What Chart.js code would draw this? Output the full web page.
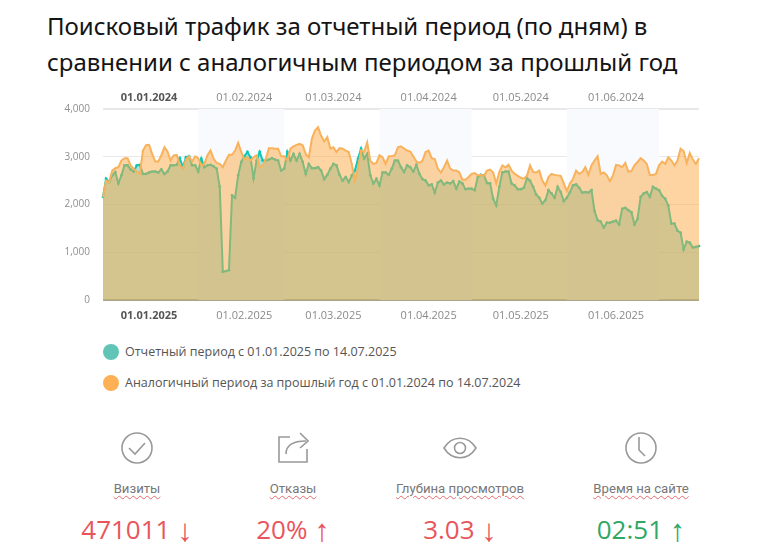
<!DOCTYPE html>
<html lang="ru">
<head>
<meta charset="utf-8">
<title>Поисковый трафик</title>
<script src="https://cdn.jsdelivr.net/npm/chart.js@4.4.0/dist/chart.umd.min.js"></script>
<style>
  html, body { margin: 0; padding: 0; background: #fff; }
  body { position: relative; width: 768px; height: 551px; overflow: hidden; font-family: "Open Sans", sans-serif; filter: blur(0.35px); }
  h1 { position: absolute; left: 47px; top: 8px; margin: 0; font: 400 24px/36px "Noto Sans", sans-serif; color: #141414; white-space: nowrap; }
  #wrap { position: absolute; left: 60px; top: 78px; width: 660px; height: 247px; }
  .leg { position: absolute; left: 103px; font-size: 12.5px; line-height: 16px; color: #555; white-space: nowrap; }
  .leg i { display: inline-block; width: 16px; height: 16px; border-radius: 50%; margin-right: 6px; vertical-align: top; }
  .kpi { position: absolute; top: 430px; width: 200px; text-align: center; }
  .kpi svg { display: block; margin: 0 auto; fill: none; stroke: #999; stroke-width: 1.6; }
  .kpi .name { margin-top: 16px; font: 13.2px/18px Roboto, sans-serif; color: #777; text-decoration: underline wavy #e36a6a 1px; text-underline-offset: 2px; }
  .kpi .val { margin-top: 13px; font: 400 26px/36px "Open Sans", sans-serif; }
  .kpi .val span { font: 400 31px/36px "Liberation Sans", sans-serif; vertical-align: -2px; }
  .bad { color: #e8565c; }
  .good { color: #2fa765; }
</style>
</head>
<body>
<h1>Поисковый трафик за отчетный период (по дням) в<br>сравнении с аналогичным периодом за прошлый год</h1>
<div id="wrap"><canvas id="chart"></canvas></div>
<div class="leg" style="top:344px"><i style="background:#60c5b7"></i>Отчетный период с 01.01.2025 по 14.07.2025</div>
<div class="leg" style="top:375px"><i style="background:#fdb154"></i>Аналогичный период за прошлый год с 01.01.2024 по 14.07.2024</div>

<div class="kpi" style="left:37px">
  <svg width="32" height="34" viewBox="0 0 32 34"><circle cx="16" cy="18" r="15"/><path d="M8 18l6 6 10-11"/></svg>
  <div class="name">Визиты</div><div class="val bad">471011 <span>↓</span></div>
</div>
<div class="kpi" style="left:193px">
  <svg width="32" height="34" viewBox="0 0 32 34"><path d="M13 7H2v25h28V19"/><path d="M9 24c0-8 6-13 20-13"/><path d="M23 3l8 8-8 7"/></svg>
  <div class="name">Отказы</div><div class="val bad">20% <span>↑</span></div>
</div>
<div class="kpi" style="left:360px">
  <svg width="34" height="34" viewBox="0 0 34 34"><path d="M1 18c8-13 24-13 32 0-8 13-24 13-32 0z"/><circle cx="17" cy="18" r="5.5"/></svg>
  <div class="name">Глубина просмотров</div><div class="val bad">3.03 <span>↓</span></div>
</div>
<div class="kpi" style="left:541px">
  <svg width="32" height="34" viewBox="0 0 32 34"><circle cx="16" cy="18" r="15"/><path d="M14 7v13l6 6"/></svg>
  <div class="name">Время на сайте</div><div class="val good">02:51 <span>↑</span></div>
</div>

<script>
const yTicks = [0, 1000, 2000, 3000, 4000];
const tickDays = [15, 46, 75, 106, 136, 167];
const ticks2024 = ['01.01.2024', '01.02.2024', '01.03.2024', '01.04.2024', '01.05.2024', '01.06.2024'];
const ticks2025 = ['01.01.2025', '01.02.2025', '01.03.2025', '01.04.2025', '01.05.2025', '01.06.2025'];
// shaded months: first and last day index (feb, apr, jun)
const shadedMonths = [[31, 59], [90, 120], [151, 181]];

const current = [
  2160,2540,2470,2610,2680,2440,2610,2820,2820,2735,2690,2820,2830,2640,2640,2670,2690,2690,2670,2735,
  2640,2690,2820,2820,2830,2970,2780,2990,3010,2820,2820,2690,2960,2780,2820,2830,2800,2750,2370,590,
  605,625,2190,2140,2610,2890,3010,3100,2990,2550,2920,3100,2920,2920,2940,2970,2940,2920,2710,2750,
  3100,2920,3060,2920,3060,2890,2640,2850,2760,2760,2780,2710,2530,2620,2750,2850,2820,2620,2500,2575,
  2470,2610,2710,2960,3170,2960,3060,2610,2440,2540,2400,2670,2670,2620,2750,2920,2920,2780,2680,2820,
  2780,2690,2830,2640,2530,2500,2400,2420,2250,2460,2500,2420,2460,2440,2490,2330,2480,2440,2320,2330,
  2330,2300,2575,2620,2610,2450,2440,2120,1980,2370,2670,2690,2690,2440,2400,2320,2320,2350,2550,2500,
  2370,2210,2140,2020,2090,2300,2230,2140,2370,2260,2070,2140,2260,2400,2420,2350,2250,2260,2250,2300,
  1860,1670,1640,1520,1620,1620,1640,1660,1580,1910,1930,1880,1840,1580,1700,2160,2230,2260,2160,2370,
  2330,2300,2180,2120,1980,1600,1600,1450,1410,1060,1220,1200,1100,1110,1130
];
const previous = [
  2160,2500,2470,2710,2760,2780,2920,2970,2970,2820,2750,2690,2640,3130,3240,3250,3060,2900,2900,3030,
  3200,3110,2920,3030,3040,2820,2750,2940,3010,2900,3010,2970,2820,2850,3030,3130,2960,2870,2850,2780,
  2920,3040,3040,3130,3290,3100,2940,2990,2920,2990,3030,2780,2820,2960,3180,3180,3170,3170,3010,3010,
  2920,3170,3220,3250,3270,3240,3060,2990,3380,3550,3620,3440,3320,3410,3170,3200,3100,3180,3170,3130,
  3100,2850,2500,2750,3130,3100,3300,2920,2850,2870,3030,2990,2850,3010,3010,3030,3200,3220,3170,3130,
  3110,3010,2900,2870,2920,3100,3130,2970,2950,2750,2670,2780,2920,2750,2710,2710,2670,2520,2520,2575,
  2640,2660,2610,2620,2600,2710,2730,2670,2440,2680,2820,2780,2830,2710,2640,2600,2560,2540,2600,2820,
  2680,2670,2710,2500,2400,2575,2640,2620,2610,2600,2440,2280,2440,2540,2710,2640,2680,2780,2620,2820,
  2920,3010,2640,2670,2610,2490,2610,2830,2820,2780,2870,2690,2700,2820,2890,2970,2920,2850,2620,2620,
  2640,2820,2900,2850,2990,2920,2820,2920,3170,3120,2870,3080,2940,2850,2970
];

const dayLabels = (names) => current.map((v, i) => {
  const k = tickDays.indexOf(i);
  return k >= 0 ? names[k] : '';
});

const monthBands = {
  id: 'monthBands',
  beforeDatasetsDraw(chart) {
    const { ctx, chartArea, scales } = chart;
    ctx.save();
    ctx.fillStyle = '#f8fafd';
    shadedMonths.forEach(([a, b]) => {
      const x0 = scales.x.getPixelForValue(a);
      const x1 = scales.x.getPixelForValue(b);
      ctx.fillRect(x0, chartArea.top, x1 - x0, chartArea.height);
    });
    ctx.restore();
  },
};

function dateAxis(position, labels) {
  return {
    position,
    type: 'category',
    labels,
    offset: false,
    grid: { display: false, drawTicks: false, tickLength: 0 },
    border: { display: false },
    afterFit: (s) => { s.height = position === 'top' ? 31 : 25; },
    ticks: {
      autoSkip: false,
      maxRotation: 0,
      minRotation: 0,
      padding: position === 'top' ? 5 : 9,
      color: (c) => (c.index === tickDays[0] ? '#555' : '#8a8a8a'),
      font: (c) => ({ family: 'Open Sans', size: 11, weight: c.index === tickDays[0] ? '700' : '400' }),
    },
  };
}

new Chart(document.getElementById('chart'), {
  type: 'line',
  plugins: [monthBands],
  data: {
    labels: dayLabels(ticks2024),
    datasets: [
      {
        label: 'Отчетный период с 01.01.2025 по 14.07.2025',
        data: current,
        borderColor: '#0cc8b4',
        backgroundColor: 'rgba(94,196,182,0.5)',
        borderWidth: 2,
        pointRadius: 1.4,
        pointBackgroundColor: '#0cc8b4',
        pointBorderWidth: 0,
        fill: 'origin',
        tension: 0,
        order: 2,
      },
      {
        label: 'Аналогичный период за прошлый год с 01.01.2024 по 14.07.2024',
        data: previous,
        borderColor: '#f8b25c',
        backgroundColor: 'rgba(251,170,70,0.5)',
        borderWidth: 2,
        pointRadius: 0,
        fill: 'origin',
        tension: 0,
        order: 1,
      },
    ],
  },
  options: {
    responsive: true,
    maintainAspectRatio: false,
    animation: false,
    layout: { padding: { right: 21, left: 0, top: 0, bottom: 0 } },
    plugins: { legend: { display: false }, tooltip: { enabled: false } },
    scales: {
      x: dateAxis('top', dayLabels(ticks2024)),
      x2: dateAxis('bottom', dayLabels(ticks2025)),
      y: {
        min: 0,
        max: 4000,
        afterFit: (s) => { s.width = 43; },
        afterBuildTicks: (s) => { s.ticks = yTicks.map((value) => ({ value })); },
        grid: {
          color: (c) => (c.tick.value === 0 ? '#a9a48c' : '#e8e8e8'),
          lineWidth: (c) => (c.tick.value === 4000 || c.tick.value === 0 ? 2 : 1),
          drawTicks: false,
        },
        border: { display: false },
        ticks: {
          padding: 13,
          color: '#8f8f8f',
          font: { family: 'Open Sans', size: 10 },
          callback: (v) => v.toLocaleString('en-US'),
        },
      },
    },
  },
});
</script>
</body>
</html>
